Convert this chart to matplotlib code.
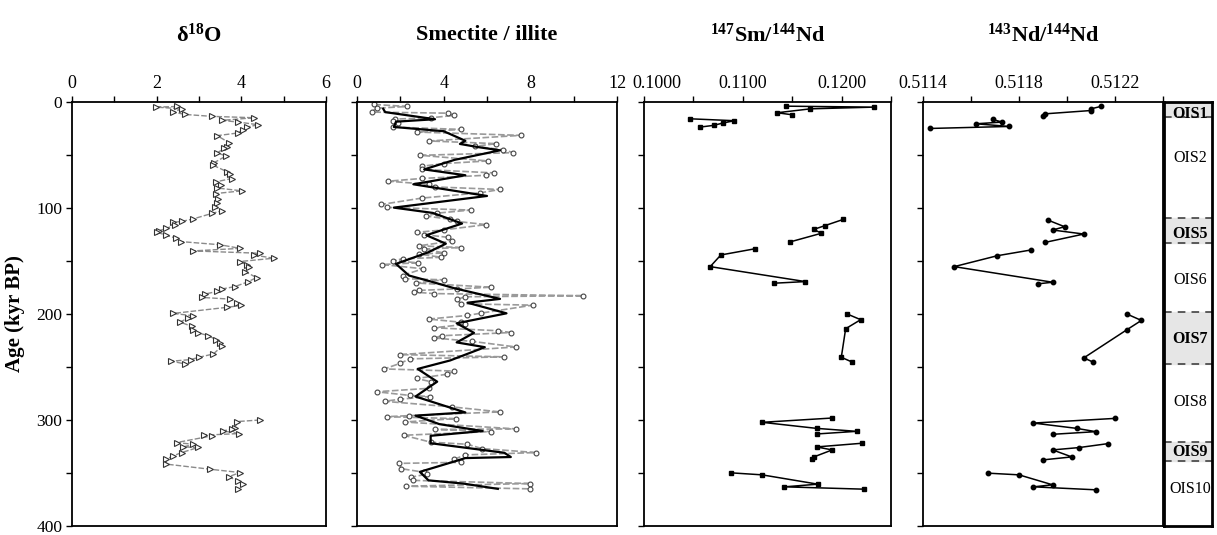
import numpy as np
import matplotlib
matplotlib.use("Agg")
import matplotlib.pyplot as plt
from matplotlib.ticker import MultipleLocator, FixedLocator, FormatStrFormatter, FuncFormatter

plt.rcParams.update({
    "font.family": ["Liberation Serif", "DejaVu Serif"],
    "font.size": 13,
    "mathtext.fontset": "custom",
    "mathtext.rm": "Liberation Serif",
    "mathtext.bf": "Liberation Serif:bold",
    "mathtext.it": "Liberation Serif:italic",
    "axes.linewidth": 1.3,
    "xtick.major.size": 4, "xtick.minor.size": 4,
    "ytick.major.size": 4, "ytick.minor.size": 4,
    "xtick.major.width": 1.0, "xtick.minor.width": 1.0,
    "ytick.major.width": 1.0, "ytick.minor.width": 1.0,
})

nan = np.nan

# ── δ18O ───────────────────────────────────────────────────────────────────
d18o_age = [4.7, 5.3, 6.9, 10, 12.2, 14, 15.3, 17.8, 19.4, 21.9, 24.1, 26.6, 29.7,
            32.2, 39, 42.9, 44, 48.5, 51.3, 57.8, 60, 66.3, 68, 72.6, 75.7, 79,
            81.5, 84.2, 86.7, 92.3, 95.4, 99, 103, 105.5, 110.8, 113, 113.9, 116.5,
            119.5, 121.9, 123, 126, 128.7, 132, 135, 138.4, 140.8, 143, 144.6, 147.7,
            150.8, 154, 155.6, 160.3, 165.9, 170, 174.4, 176.6, 179, 181.5, 184.6,
            186.2, 189.4, 192.2, 194, 199.7, 201.9, 204, 207.8, 211.9, 215, 218,
            220.6, 224.4, 227.5, 230.6, 237.9, 241, 243.2, 244.7, 247.2, nan,
            300.1, 301.6, 307.8, 308.8, 310.4, 312.9, 314.4, 315, 321.4, 323, 325.5,
            326, 330.8, 333.9, 337, 341.7, 346.5, 349.6, 353.6, 357.4, 360.5, 365.2]
d18o_val = [2.47, 1.98, 2.59, 2.39, 2.67, 3.30, 4.30, 3.54, 3.93, 4.40, 4.13, 4.05, 3.91,
            3.43, 3.72, 3.65, 3.60, 3.43, 3.64, 3.35, 3.33, 3.67, 3.73, 3.77, 3.40, 3.53,
            3.43, 4.01, 3.40, 3.45, 3.42, 3.38, 3.54, 3.30, 2.85, 2.59, 2.38, 2.43,
            2.23, 2.05, 2.00, 2.22, 2.45, 2.57, 3.50, 3.97, 2.85, 4.44, 4.29, 4.76,
            3.97, 4.13, 4.17, 4.09, 4.36, 4.15, 3.85, 3.55, 3.42, 3.14, 3.06,
            3.73, 3.89, 4.00, 3.65, 2.39, 2.87, 2.75, 2.55, 2.83, 2.87, 2.98,
            3.22, 3.40, 3.50, 3.54, 3.34, 3.00, 2.80, 2.35, 2.66, nan,
            4.44, 3.90, 3.85, 3.77, 3.56, 3.95, 3.12, 3.31, 2.47, 2.87, 2.63,
            2.98, 2.59, 2.39, 2.23, 2.23, 3.26, 3.97, 3.70, 3.92, 4.05, 3.93]

# ── Smectite / illite ──────────────────────────────────────────────────────
smec_age = [2.8, 4.7, 6.3, 10, 11, 13.1, 15.3, 16.6, 18, 20, 24.1, 26.3, 28.8, 31.9,
            37.2, 39.7, 42.3, 45.4, 48.2, 50.7, 56, 58.5, 61, 64, 67.3, 69.5, 72.5,
            75.1, 78, 80.5, 82.9, 86, 91, 97, 99.8, 102.3, 105.2, 107.9, 111, 113,
            116, 121, 123.2, 125.5, 128, 131.5, 136, 137.6, 139, 142.7, 143.8, 146.8,
            148.3, 149.9, 152, 153.6, 157.6, 164, 167, 168, 171, 175, 176.6, 178,
            179.6, 181, 183, 184, 186.5, 190.6, 191.9, 199.4, 201.6, 205, 208, 210,
            213.2, 216, 217.7, 220.7, 222.8, 226, 231.3, 238.5, 240.6, 242.5, 246.8,
            252, 254, 257, 261, 264, 270.3, 273.5, 277, 278, 280.5, 282.5, 287.8,
            292.5, 296, 297, 298.8, 302, 308.5, 309, 311, 314.5, 321, 323, 327,
            330.8, 333, 337, 340, 341, 346, 349.4, 351, 354, 357, 360, 362.5, 365]
smec_val = [0.80, 2.33, 0.90, 0.67, 4.20, 4.48, 3.43, 1.75, 1.67, 1.90, 1.64, 4.81, 2.77, 7.57,
            3.33, 6.42, 5.43, 6.73, 7.22, 2.93, 6.04, 4.00, 3.00, 3.00, 6.34, 5.96, 3.00,
            1.44, 3.30, 3.60, 6.61, 5.70, 3.00, 1.13, 1.39, 5.24, 3.70, 3.20, 4.27, 4.60,
            5.96, 4.00, 2.79, 3.10, 4.20, 4.40, 2.85, 4.80, 3.10, 4.00, 2.85, 3.90,
            2.10, 1.67, 2.80, 1.15, 3.04, 2.10, 2.20, 4.00, 2.70, 6.20, 4.60, 2.85,
            2.62, 3.56, 10.45, 5.00, 4.60, 4.80, 8.11, 5.73, 5.10, 3.30, 4.80, 5.00,
            3.55, 6.50, 7.10, 3.92, 3.55, 5.30, 7.34, 1.98, 6.80, 2.45, 1.98,
            1.26, 4.50, 4.16, 2.75, 3.40, 3.30, 0.90, 2.45, 3.35, 2.00, 1.27, 4.40,
            6.60, 2.40, 1.37, 4.55, 2.20, 7.35, 3.60, 6.20, 2.15, 3.40, 5.10, 5.75,
            8.26, 5.00, 4.50, 4.80, 1.95, 2.05, 3.10, 3.25, 2.50, 2.60, 8.00, 2.25, 7.97]

smooth_age = [6.9, 10, 16.7, 19, 24, 28, 37, 40, 43, 46, 55, 64, 69.5, 78, 89, 100, 105,
              115, 126, 134, 142, 153, 164, 169, 176, 186, 189.6, 199.6, 209, 218, 227,
              231.5, 244, 252, 264, 278, 293, 296, 304, 310.5, 315, 322, 331, 335, 336,
              341, 349, 357, 360, 365]
smooth_val = [1.21, 1.30, 3.60, 1.80, 1.70, 4.00, 5.00, 4.75, 5.60, 6.60, 4.50, 3.10, 5.00,
              2.60, 6.00, 1.70, 3.50, 4.85, 3.20, 4.10, 3.30, 1.80, 2.40, 3.30, 4.50, 6.60,
              5.10, 6.90, 4.60, 5.40, 4.60, 5.90, 4.30, 2.80, 3.70, 2.70, 5.00, 2.70, 3.80,
              5.80, 3.40, 3.40, 6.80, 7.10, 5.00, 4.20, 2.90, 3.30, 4.90, 6.50]

# ── 147Sm/144Nd ────────────────────────────────────────────────────────────
smnd_age = [4.4, 5.3, 6.9, 10.6, 12.5, nan,
            16.3, 18.1, 20.3, 22.5, 24.1, nan,
            111.1, 117.1, 120.5, 124.2, 132.4, nan,
            138.7, 144.6, 155.6, 169.7, 171.2, nan,
            200.0, 205.6, 214.1, 241.0, 245.6, nan,
            298.3, 302.3, 308.0, 310.8, 313.3, nan,
            322.0, 325.5, 328.3, 334.9, 337.0, nan,
            349.9, 351.8, 360.6, 363.1, 365.3]
smnd_val = [0.11439, 0.12328, 0.11685, 0.11347, 0.11499, nan,
            0.10467, 0.10914, 0.10799, 0.10704, 0.10569, nan,
            0.12017, 0.11827, 0.11719, 0.11794, 0.11475, nan,
            0.11127, 0.10778, 0.10670, 0.11634, 0.11320, nan,
            0.12051, 0.12193, 0.12041, 0.11997, 0.12108, nan,
            0.11898, 0.11195, 0.11746, 0.12152, 0.11746, nan,
            0.12210, 0.11746, 0.11905, 0.11719, 0.11702, nan,
            0.10880, 0.11195, 0.11760, 0.11421, 0.12227]

# ── 143Nd/144Nd ────────────────────────────────────────────────────────────
ndnd_age = [4.7, 6.9, 8.5, 11.6, 13.4, nan,
            16.9, 19.4, 21.0, 23.5, 25.4, nan,
            111.7, 118.0, 121.1, 124.9, 132.7, nan,
            139.9, 145.3, 155.6, 170.3, 171.8, nan,
            200.3, 206.3, 215.0, 241.6, 245.7, nan,
            298.6, 303.0, 308.0, 311.1, 313.6, nan,
            322.4, 326.1, 328.3, 334.9, 337.7, nan,
            350.2, 351.8, 361.2, 363.1, 365.9]
ndnd_val = [0.51214, 0.51210, 0.51210, 0.51191, 0.51190, nan,
            0.51169, 0.51173, 0.51162, 0.51176, 0.51143, nan,
            0.51192, 0.51199, 0.51194, 0.51207, 0.51191, nan,
            0.51185, 0.51171, 0.51153, 0.51194, 0.51188, nan,
            0.51225, 0.51231, 0.51225, 0.51207, 0.51211, nan,
            0.51220, 0.51186, 0.51204, 0.51212, 0.51194, nan,
            0.51217, 0.51205, 0.51194, 0.51202, 0.51190, nan,
            0.51167, 0.51180, 0.51194, 0.51186, 0.51212]

# ── isotope stages ─────────────────────────────────────────────────────────
OIS_NAMES  = ["OIS1", "OIS2", "OIS5", "OIS6", "OIS7", "OIS8", "OIS9", "OIS10"]
OIS_MID    = [11.5, 53, 125, 168, 224, 283, 330, 365]
OIS_BOLD   = [True, False, True, False, True, False, True, False]
OIS_SHADED = [(0, 15), (110, 133), (198, 247), (321, 339)]

W, H = 1217, 535
fig = plt.figure(figsize=(W / 100, H / 100), dpi=100)

top, bot = 101.5, 526
def box(x0, x1):
    return [x0 / W, 1 - bot / H, (x1 - x0) / W, (bot - top) / H]

ax1 = fig.add_axes(box(72, 326))
ax2 = fig.add_axes(box(357, 617))
ax3 = fig.add_axes(box(644, 891))
ax4 = fig.add_axes(box(923, 1163))
ax5 = fig.add_axes(box(1164, 1212))

for ax in (ax1, ax2, ax3, ax4):
    ax.set_ylim(400, 0)
    ax.xaxis.tick_top()
    ax.xaxis.set_label_position("top")
    ax.yaxis.set_major_locator(MultipleLocator(100))
    ax.yaxis.set_minor_locator(MultipleLocator(50))
    ax.tick_params(which="both", direction="out", pad=3)
    ax.tick_params(axis="y", which="both", right=False)
    ax.tick_params(axis="x", which="both", bottom=False)

ax1.set_ylabel("Age (kyr BP)", fontsize=15, fontweight="bold", labelpad=8)
ax1.tick_params(axis="y", labelsize=12.5)
for ax in (ax2, ax3, ax4):
    ax.tick_params(axis="y", labelleft=False)

# panel 1
ax1.plot(d18o_val, d18o_age, "--", color="#8a8a8a", lw=1.0, dashes=(4, 1.5),
         marker=">", ms=4.5, mfc="white", mec="#333333", mew=0.8)
ax1.set_xlim(0, 6)
ax1.xaxis.set_major_locator(MultipleLocator(2))
ax1.xaxis.set_minor_locator(MultipleLocator(1))

# panel 2
ax2.plot(smec_val, smec_age, "--", color="#9a9a9a", lw=1.2, dashes=(4, 1.5),
         marker="o", ms=3.5, mfc="white", mec="#444444", mew=0.8)
ax2.plot(smooth_val, smooth_age, "-", color="black", lw=1.6)
ax2.set_xlim(0, 12)
ax2.xaxis.set_major_locator(MultipleLocator(4))
ax2.xaxis.set_minor_locator(MultipleLocator(2))

# panel 3 (first label nudged right so it clears the "12")
ax3.plot(smnd_val, smnd_age, "-", color="black", lw=1.1,
         marker="s", ms=3.5, mfc="black", mec="black")
ax3.set_xlim(0.1000, 0.1250)
ax3.xaxis.set_major_locator(FixedLocator([0.1000, 0.1100, 0.1200]))
ax3.xaxis.set_minor_locator(FixedLocator([0.1050, 0.1150, 0.1250]))
ax3.xaxis.set_major_formatter(FuncFormatter(lambda v, p: "" if p == 0 else f"{v:.4f}"))
ax3.annotate("0.1000", xy=(0.1000, 1), xycoords=("data", "axes fraction"),
             xytext=(9, 7), textcoords="offset points", ha="center", va="bottom",
             fontsize=13, annotation_clip=False)

# panel 4
ax4.plot(ndnd_val, ndnd_age, "-", color="black", lw=1.1,
         marker="o", ms=3.2, mfc="black", mec="black")
ax4.set_xlim(0.5114, 0.5124)
ax4.xaxis.set_major_locator(FixedLocator([0.5114, 0.5118, 0.5122]))
ax4.xaxis.set_minor_locator(FixedLocator([0.5116, 0.5120, 0.5124]))
ax4.xaxis.set_major_formatter(FormatStrFormatter("%.4f"))

# stage column
ax5.set_xlim(0, 1)
ax5.set_ylim(400, 0)
ax5.set_xticks([])
ax5.set_yticks([])
for s in ax5.spines.values():
    s.set_linewidth(2.0)
for a, b in OIS_SHADED:
    ax5.axhspan(a, b, xmin=0.04, xmax=1, color="#e6e6e6", zorder=0)
    for yb in (a, b):
        if yb > 0:
            ax5.axhline(yb, color="#333333", lw=1.1, ls=(0, (5, 4)))
for name, mid, bold in zip(OIS_NAMES, OIS_MID, OIS_BOLD):
    ax5.text(0.55, mid, name, ha="center", va="center", fontsize=11.5,
             fontweight="bold" if bold else "normal")

titles = [r"δ$^{\mathbf{18}}$O", "Smectite / illite",
          r"$^{\mathbf{147}}$Sm/$^{\mathbf{144}}$Nd",
          r"$^{\mathbf{143}}$Nd/$^{\mathbf{144}}$Nd"]
for ax, t in zip((ax1, ax2, ax3, ax4), titles):
    ax.text(0.5, 1.157, t, transform=ax.transAxes, ha="center", va="center",
            fontsize=16, fontweight="bold")

fig.savefig("out.png", dpi=100, facecolor="white")
